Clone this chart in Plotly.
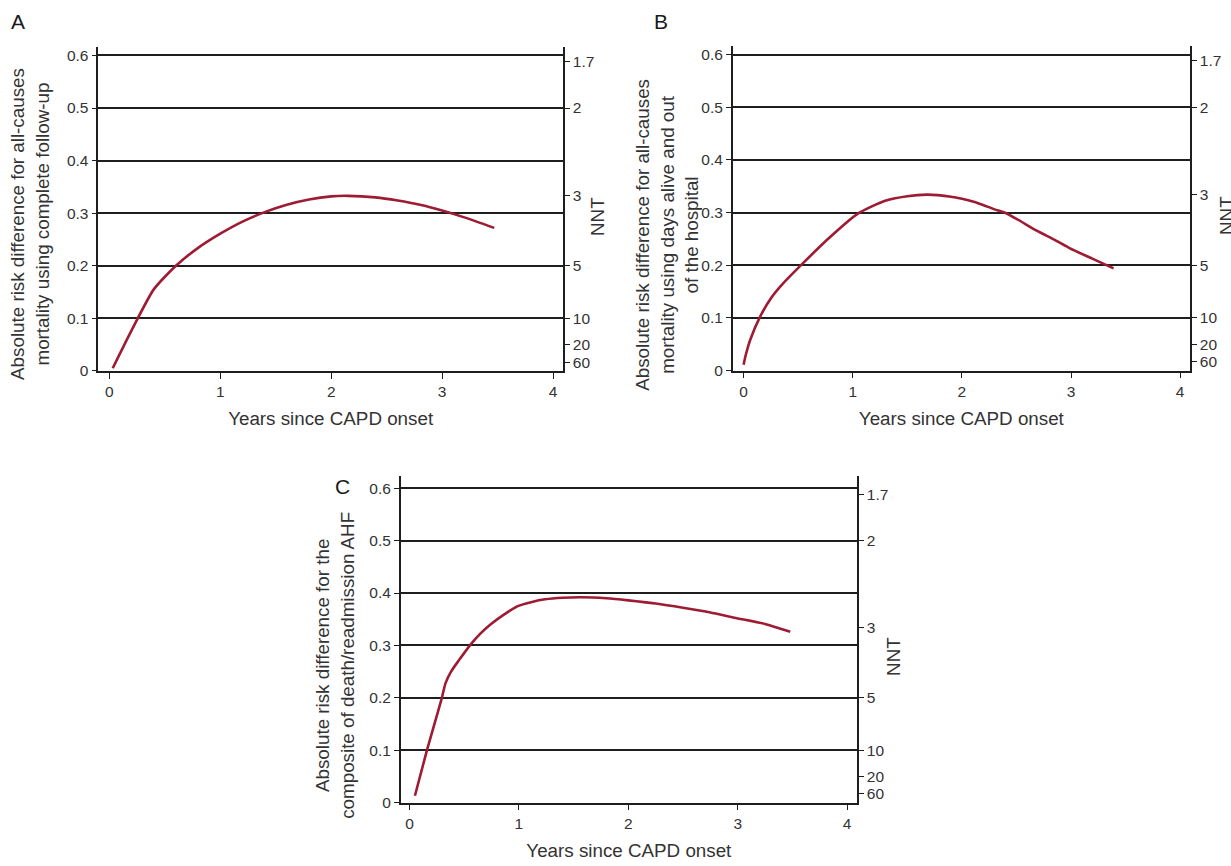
import plotly.graph_objects as go

# ---------------- data ----------------
years_a = [0.03, 0.2, 0.4, 0.6, 0.8, 1.0, 1.2, 1.4, 1.6, 1.8, 2.0, 2.15, 2.4, 2.6, 2.8, 3.0, 3.2, 3.47]
risk_a = [0.005, 0.077, 0.155, 0.200, 0.234, 0.261, 0.284, 0.302, 0.316, 0.326, 0.332, 0.333, 0.330, 0.324, 0.316, 0.305, 0.292, 0.272]

years_b = [0.0, 0.02, 0.06, 0.15, 0.26, 0.36, 0.54, 0.79, 1.04, 1.29, 1.5, 1.68, 1.78, 1.9, 2.0, 2.1, 2.2, 2.3, 2.39, 2.5, 2.69, 2.85, 2.99, 3.2, 3.39]
risk_b = [0.011, 0.030, 0.058, 0.102, 0.140, 0.165, 0.203, 0.253, 0.297, 0.322, 0.331, 0.334, 0.333, 0.330, 0.326, 0.321, 0.314, 0.306, 0.300, 0.288, 0.265, 0.248, 0.232, 0.212, 0.194]

years_c = [0.05, 0.16, 0.29, 0.33, 0.38, 0.45, 0.56, 0.65, 0.74, 0.85, 0.99, 1.12, 1.24, 1.4, 1.57, 1.8, 2.0, 2.25, 2.5, 2.75, 2.97, 3.25, 3.48]
risk_c = [0.013, 0.100, 0.195, 0.228, 0.250, 0.271, 0.302, 0.323, 0.340, 0.357, 0.375, 0.383, 0.388, 0.391, 0.392, 0.390, 0.386, 0.380, 0.372, 0.363, 0.353, 0.341, 0.326]

x_ticks = [0, 1, 2, 3, 4]
y_ticks = [0, 0.1, 0.2, 0.3, 0.4, 0.5, 0.6]
y_tick_labels = ["0", "0.1", "0.2", "0.3", "0.4", "0.5", "0.6"]
nnt_labels = ["1.7", "2", "3", "5", "10", "20", "60"]
nnt_values = [1.7, 2, 3, 5, 10, 20, 60]

titles_y = [
    "Absolute risk difference for all-causes<br>mortality using complete follow-up",
    "Absolute risk difference for all-causes<br>mortality using days alive and out<br>of the hospital",
    "Absolute risk difference for the<br>composite of death/readmission AHF",
]
x_title = "Years since CAPD onset"
nnt_title = "NNT"
panel_letters = ["A", "B", "C"]

# ---------------- style ----------------
W, H = 1231, 866
FONT = "Liberation Sans, Arial, Helvetica, sans-serif"
TXT = "#333333"
GRID = "#1e1e1e"
LINE_COL = "#9e1b34"
TICK_SIZE = 15.5
TITLE_SIZE = 18.8

# panel boxes in pixels: (left, right, top, bottom), x-range, y-range
panels = [
    (98.3, 563.0, 47.0, 374.3, [-0.10, 4.09], [0, 0.617]),
    (732.7, 1190.0, 46.0, 374.0, [-0.10, 4.09], [0, 0.617]),
    (400.7, 857.0, 480.7, 810.0, [-0.08, 4.09], [0, 0.623]),
]
series = [(years_a, risk_a), (years_b, risk_b), (years_c, risk_c)]
letter_pos = [(18, 22), (661, 22), (342, 491)]
ytitle_pos = [(30, 226), (667, 237), (335, 672)]
nnt_pos = [(598, 219), (1227, 218), (894, 663)]

fig = go.Figure()
layout = dict(
    autosize=True,
    margin=dict(l=0, r=0, t=0, b=0, pad=0),
    paper_bgcolor="white", plot_bgcolor="white",
    showlegend=False,
    font=dict(family=FONT, size=TICK_SIZE, color=TXT),
)


def paper(px, py):
    return px / W, 1 - py / H


annotations = []
for i, ((xs, ys), (l, r, t, b, xr, yr)) in enumerate(zip(series, panels)):
    n = i + 1
    xa = "x" if n == 1 else f"x{n}"
    ya = "y" if n == 1 else f"y{2 * n - 1}"
    ya2 = f"y{2 * n}"
    xkey = "xaxis" if n == 1 else f"xaxis{n}"
    ykey = "yaxis" if n == 1 else f"yaxis{2 * n - 1}"
    y2key = f"yaxis{2 * n}"

    fig.add_trace(go.Scatter(
        x=xs, y=ys, mode="lines", xaxis=xa, yaxis=ya,
        line=dict(color=LINE_COL, width=2.6, shape="spline", smoothing=0.6),
        hoverinfo="x+y",
    ))
    # invisible companion trace so the NNT axis is drawn
    fig.add_trace(go.Scatter(
        x=xs, y=ys, mode="markers", xaxis=xa, yaxis=ya2,
        marker=dict(opacity=0), hoverinfo="skip",
    ))

    xdom = [l / W, r / W]
    ydom = [1 - b / H, 1 - t / H]
    layout[xkey] = dict(
        domain=xdom, range=xr, anchor=ya,
        tickvals=x_ticks, ticks="outside", ticklen=6, tickwidth=1.4, tickcolor=GRID,
        showline=True, linecolor=GRID, linewidth=1.5,
        showgrid=False, zeroline=False,
        tickfont=dict(size=TICK_SIZE, color=TXT),
        title=dict(text=x_title, font=dict(size=TITLE_SIZE, color=TXT), standoff=13),
    )
    layout[ykey] = dict(
        domain=ydom, range=yr, anchor=xa,
        tickvals=y_ticks, ticktext=y_tick_labels,
        ticks="outside", ticklen=5, tickwidth=1.4, tickcolor=GRID,
        showline=True, linecolor=GRID, linewidth=1.5,
        showgrid=True, gridcolor=GRID, gridwidth=1.5,
        zeroline=False,
        tickfont=dict(size=TICK_SIZE, color=TXT),
    )
    layout[y2key] = dict(
        domain=ydom, range=yr, anchor=xa, overlaying=ya, side="right",
        tickvals=[1 / v for v in nnt_values], ticktext=nnt_labels,
        ticks="outside", ticklen=5, tickwidth=1.4, tickcolor=GRID,
        showline=True, linecolor=GRID, linewidth=1.5,
        showgrid=False, zeroline=False,
        tickfont=dict(size=TICK_SIZE, color=TXT),
    )

    # panel letter
    ax_, ay_ = paper(*letter_pos[i])
    annotations.append(dict(
        text=panel_letters[i], x=ax_, y=ay_, xref="paper", yref="paper",
        showarrow=False, xanchor="center", yanchor="middle",
        font=dict(size=21, color="#1a1a1a", family=FONT),
    ))
    # left y-axis title
    tx, ty = paper(*ytitle_pos[i])
    annotations.append(dict(
        text=titles_y[i], x=tx, y=ty, xref="paper", yref="paper",
        showarrow=False, xanchor="center", yanchor="middle", textangle=-90,
        align="center", font=dict(size=TITLE_SIZE, color=TXT, family=FONT),
    ))
    # right (NNT) axis title
    nx, ny = paper(*nnt_pos[i])
    annotations.append(dict(
        text=nnt_title, x=nx, y=ny, xref="paper", yref="paper",
        showarrow=False, xanchor="center", yanchor="middle", textangle=-90,
        font=dict(size=TITLE_SIZE, color=TXT, family=FONT),
    ))

layout["annotations"] = annotations
fig.update_layout(**layout)

fig.write_html(
    "out.html",
    config={"displayModeBar": False, "responsive": True},
    default_width="100vw",
    default_height="100vh",
    post_script=(
        "document.body.style.margin='0';"
        "document.body.style.overflow='hidden';"
        "document.documentElement.style.overflow='hidden';"
        "window.dispatchEvent(new Event('resize'));"
    ),
)
